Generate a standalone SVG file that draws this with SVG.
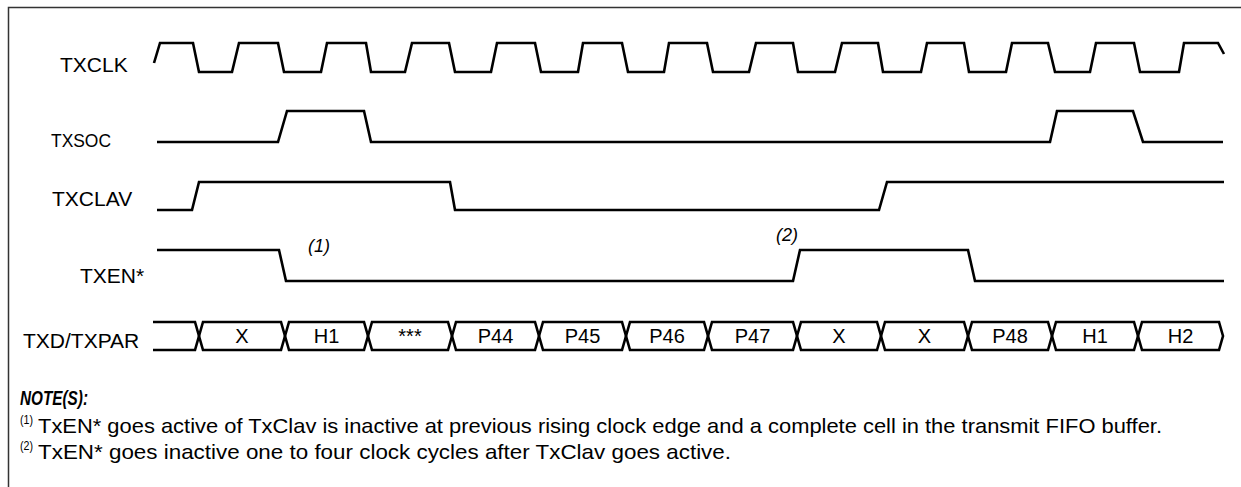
<svg xmlns="http://www.w3.org/2000/svg" width="1241" height="487" viewBox="0 0 1241 487">
<style>
.frame{fill:none;stroke:#333;stroke-width:1.5}
.w{fill:none;stroke:#000;stroke-width:2.6;stroke-linejoin:miter}
.bus{fill:none;stroke:#000;stroke-width:2.6;stroke-linejoin:miter}
.lbl{font-family:"Liberation Sans",Arial,sans-serif;font-size:21px;fill:#000}
.bl{font-family:"Liberation Sans",Arial,sans-serif;font-size:20px;fill:#000;text-anchor:middle}
.ann{font-family:"Liberation Sans",Arial,sans-serif;font-size:18px;font-style:italic;fill:#000}
.note{font-family:"Liberation Sans Narrow","Liberation Sans",Arial,sans-serif;font-size:21px;fill:#000}
.sup{font-family:"Liberation Sans Narrow","Liberation Sans",Arial,sans-serif;font-size:13px;fill:#000}
.nh{font-family:"Liberation Sans Narrow","Liberation Sans",Arial,sans-serif;font-size:20px;font-weight:bold;font-style:italic;fill:#000}
</style>
<rect width="1241" height="487" fill="#fff"/>
<path class="frame" d="M8.5,487 V7.5 H1241"/>
<g id="txclk">
<text class="lbl" x="60" y="72">TXCLK</text>
<path class="w" d="M154,63 L160,43 H193 L199,72 H232 L239,43 H278 L284,72 H321 L327,43 H366 L371,72 H405 L412,43 H449 L455,72 H491 L497,43 H535 L541,72 H578 L583,43 H622 L628,72 H664 L669,43 H707 L713,72 H749 L756,43 H793 L798,72 H835 L842,43 H878 L883,72 H921 L927,43 H964 L969,72 H1006 L1012,43 H1048 L1055,72 H1090 L1096,43 H1134 L1140,72 H1179 L1184,43 H1218 L1224,54"/>
</g>
<g id="txsoc">
<text class="lbl" x="51" y="147" textLength="60" lengthAdjust="spacingAndGlyphs" style="font-size:19px">TXSOC</text>
<path class="w" d="M157,142 H278 L287,111 H364 L371,142 H1050 L1057,111 H1133 L1143,142 H1223"/>
</g>
<g id="txclav">
<text class="lbl" x="52" y="206">TXCLAV</text>
<path class="w" d="M157,210 H192 L199,182 H450 L455,210 H879 L887,182 H1224"/>
</g>
<g id="txen">
<text class="lbl" x="80" y="283">TXEN*</text>
<path class="w" d="M157,250 H279 L286,281 H793 L800,250 H968 L975,281 H1224"/>
</g>
<g id="txd">
<text class="lbl" x="23" y="348">TXD/TXPAR</text>
<path class="bus" d="M153,322 H195 L199,336 L195,350 H153"/>
<path class="bus" d="M199,336 L203,322 H281 L285,336 L281,350 H203 Z"/>
<path class="bus" d="M285,336 L289,322 H364 L368,336 L364,350 H289 Z"/>
<path class="bus" d="M368,336 L372,322 H448 L452,336 L448,350 H372 Z"/>
<path class="bus" d="M452,336 L456,322 H535 L539,336 L535,350 H456 Z"/>
<path class="bus" d="M539,336 L543,322 H622 L626,336 L622,350 H543 Z"/>
<path class="bus" d="M626,336 L630,322 H704 L708,336 L704,350 H630 Z"/>
<path class="bus" d="M708,336 L712,322 H793 L797,336 L793,350 H712 Z"/>
<path class="bus" d="M797,336 L801,322 H877 L881,336 L877,350 H801 Z"/>
<path class="bus" d="M881,336 L885,322 H964 L968,336 L964,350 H885 Z"/>
<path class="bus" d="M968,336 L972,322 H1048 L1052,336 L1048,350 H972 Z"/>
<path class="bus" d="M1052,336 L1056,322 H1134 L1138,336 L1134,350 H1056 Z"/>
<path class="bus" d="M1138,336 L1142,322 H1219 L1223,336 L1219,350 H1142 Z"/>
<text class="bl" x="242" y="343">X</text>
<text class="bl" x="326.5" y="343">H1</text>
<text class="bl" x="410" y="343">***</text>
<text class="bl" x="495.5" y="343">P44</text>
<text class="bl" x="582.5" y="343">P45</text>
<text class="bl" x="667" y="343">P46</text>
<text class="bl" x="752.5" y="343">P47</text>
<text class="bl" x="839" y="343">X</text>
<text class="bl" x="924.5" y="343">X</text>
<text class="bl" x="1010" y="343">P48</text>
<text class="bl" x="1095" y="343">H1</text>
<text class="bl" x="1180.5" y="343">H2</text>
</g>
<g id="annotations">
<text class="ann" x="308" y="252">(1)</text>
<text class="ann" x="776" y="241">(2)</text>
</g>
<g id="notes">
<text class="nh" x="20" y="405" textLength="68" lengthAdjust="spacingAndGlyphs">NOTE(S):</text>
<text class="sup" x="20" y="424" textLength="13" lengthAdjust="spacingAndGlyphs">(1)</text>
<text class="note" x="38" y="433" textLength="1124" lengthAdjust="spacingAndGlyphs">TxEN* goes active of TxClav is inactive at previous rising clock edge and a complete cell in the transmit FIFO buffer.</text>
<text class="sup" x="20" y="450" textLength="13" lengthAdjust="spacingAndGlyphs">(2)</text>
<text class="note" x="38" y="459" textLength="693" lengthAdjust="spacingAndGlyphs">TxEN* goes inactive one to four clock cycles after TxClav goes active.</text>
</g>
</svg>
